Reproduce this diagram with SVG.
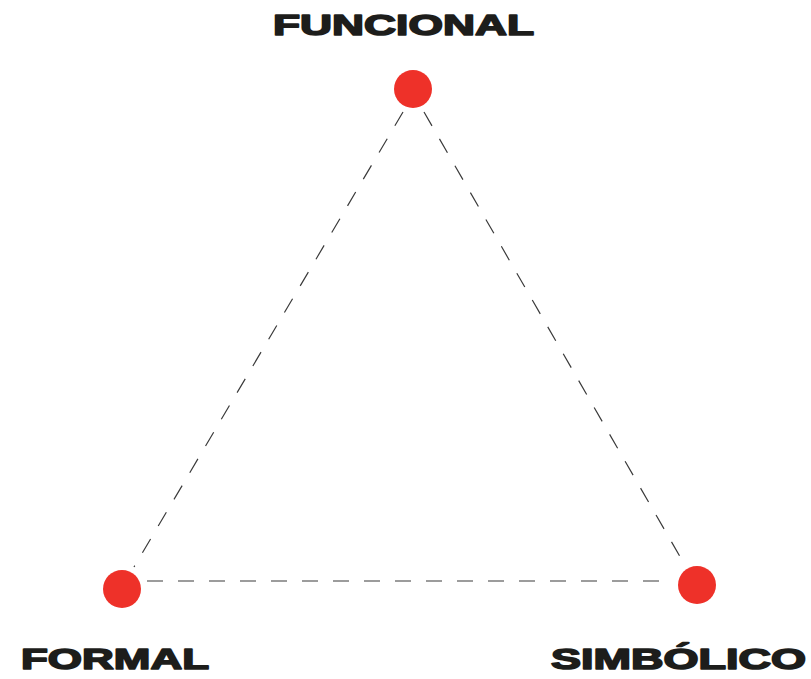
<svg xmlns="http://www.w3.org/2000/svg" width="811" height="679" viewBox="0 0 811 679">
<style>
.lbl{font-family:"Liberation Sans",Arial,sans-serif;font-weight:900;font-size:29px;fill:#1d1d1b;stroke:#1d1d1b;stroke-width:1.6;stroke-linejoin:round;}
.dot{fill:#ee3129;}
.edge{stroke:#3a3a3a;stroke-width:1.2;stroke-dasharray:16 15;fill:none;}
</style>
<rect width="811" height="679" fill="#fff"/>
<g id="connectors">
<line class="edge" x1="403" y1="112" x2="134" y2="567"/>
<line class="edge" x1="424" y1="112" x2="686" y2="567"/>
<line class="edge" x1="147" y1="581" x2="673" y2="581"/>
</g>
<g id="funcional">
<circle class="dot" cx="413" cy="89" r="19"/>
<text class="lbl" x="273" y="35" textLength="261" lengthAdjust="spacingAndGlyphs">FUNCIONAL</text>
</g>
<g id="formal">
<circle class="dot" cx="122" cy="589" r="19"/>
<text class="lbl" x="21" y="669" textLength="188" lengthAdjust="spacingAndGlyphs">FORMAL</text>
</g>
<g id="simbolico">
<circle class="dot" cx="697" cy="585" r="19"/>
<text class="lbl" x="551" y="669" textLength="255" lengthAdjust="spacingAndGlyphs">SIMBÓLICO</text>
</g>
</svg>
